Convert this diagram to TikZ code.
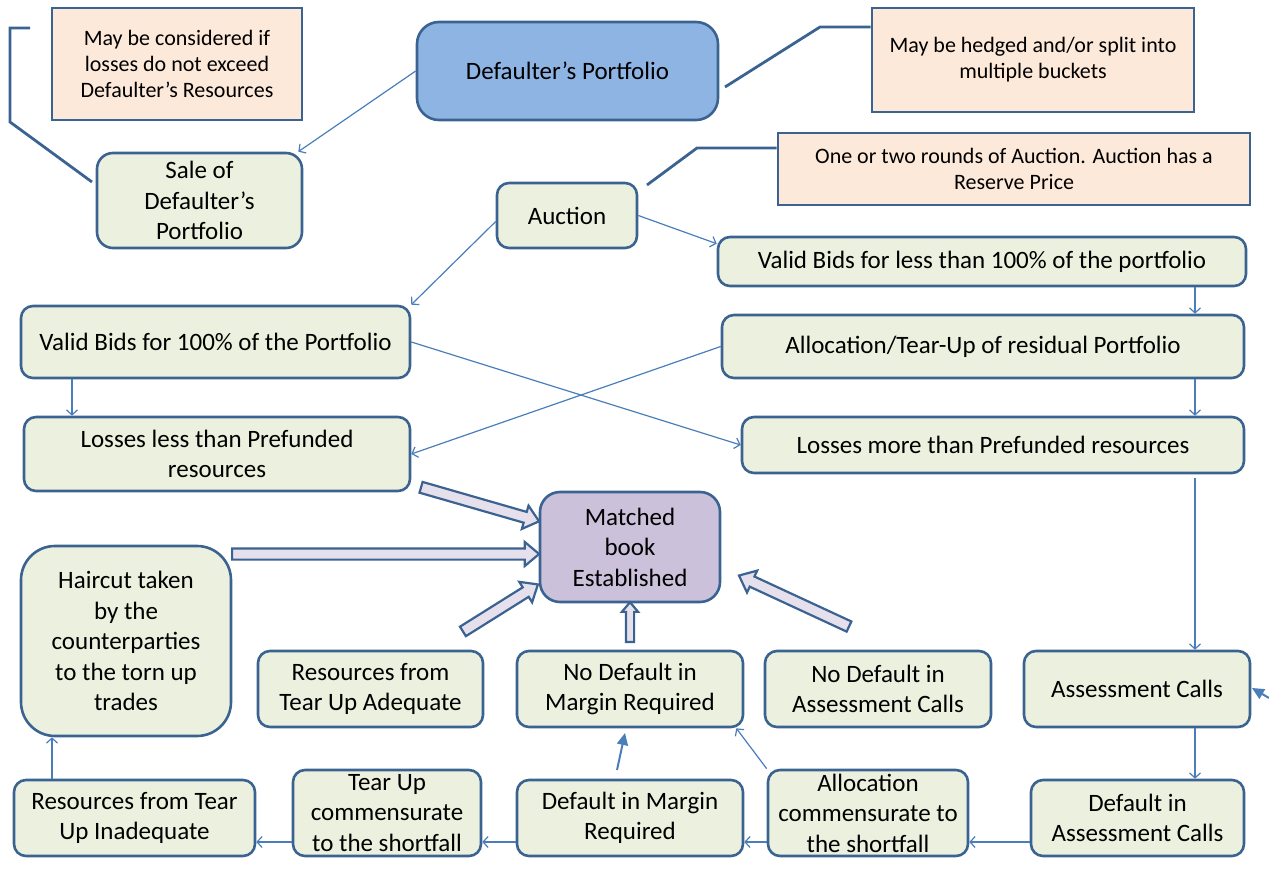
\documentclass[tikz,border=0pt]{standalone}
\usepackage{fontspec}
\setmainfont{Carlito}
\usetikzlibrary{arrows.meta,shapes.arrows,calc}
\definecolor{bord}{HTML}{3B6391}
\definecolor{gfill}{HTML}{EBF1DE}
\definecolor{pfill}{HTML}{FDE9D9}
\definecolor{bfill}{HTML}{8EB4E3}
\definecolor{mfill}{HTML}{CCC1DA}
\definecolor{afill}{HTML}{E6E0EC}
\definecolor{conn}{HTML}{4A7EBB}
\tikzset{
 base/.style={draw=bord, line width=2.6pt, align=center, inner sep=0pt, font=\fontsize{25}{30.5}\selectfont},
 gbox/.style={base, fill=gfill, rounded corners=12pt},
 note/.style={base, fill=pfill, font=\fontsize{22}{26}\selectfont},
 cn/.style={draw=conn, line width=1.2pt, -{Straight Barb[length=5pt,width=11pt]}},
 callout/.style={draw=bord, line width=2.8pt},
 barrow/.style={single arrow, draw=bord, fill=afill, line width=2.2pt, inner sep=0pt, inner ysep=4.5pt, minimum width=0pt, single arrow head extend=6.5pt, single arrow tip angle=80},
 farrow/.style={draw=conn, line width=2pt, -{Triangle[length=12pt,width=11pt]}}
}
\newcommand\barr[3]{\path let \p1=(#1), \p2=(#2), \n1={atan2(\y2-\y1,\x2-\x1)}, \n2={veclen(\x2-\x1,\y2-\y1)} in node[barrow, #3, minimum height=\n2, rotate=\n1, anchor=tail] at (\p1) {};}
\begin{document}
\begin{tikzpicture}[x=1pt,y=-1pt]
\useasboundingbox (0,0) rectangle (1269,874);
% notes
\node[note, minimum width=250, minimum height=112] (n1) at (177,64) {May be considered if\\losses do not exceed\\Defaulter’s Resources};
\node[note, minimum width=322, minimum height=104] (n2) at (1033,60) {May be hedged and/or split into\\multiple buckets};
\node[note, minimum width=472, minimum height=72] (n3) at (1014,169) {One or two rounds of Auction. Auction has a\\Reserve Price};
% main boxes
\node[base, fill=bfill, rounded corners=22pt, minimum width=301, minimum height=98] (port) at (567.5,71) {Defaulter’s Portfolio};
\node[gbox, rounded corners=16pt, minimum width=205, minimum height=95] (sale) at (199.5,200.5) {Sale of\\Defaulter’s\\Portfolio};
\node[gbox, minimum width=140, minimum height=65] (auc) at (567,215.5) {Auction};
\node[gbox, minimum width=528, minimum height=49] (vless) at (982,261.5) {Valid Bids for less than 100\% of the portfolio};
\node[gbox, minimum width=389, minimum height=72] (v100) at (215.5,342) {Valid Bids for 100\% of the Portfolio};
\node[gbox, minimum width=522, minimum height=63] (alloc) at (983,346.5) {Allocation/Tear-Up of residual Portfolio};
\node[gbox, minimum width=386, minimum height=74] (lless) at (217,454) {Losses less than Prefunded\\resources};
\node[gbox, minimum width=502, minimum height=56] (lmore) at (993,445) {Losses more than Prefunded resources};
\node[base, fill=mfill, rounded corners=20pt, minimum width=180, minimum height=110] (mb) at (630,547) {Matched\\book\\Established};
\node[gbox, rounded corners=34pt, minimum width=210, minimum height=190] (hair) at (126,641) {Haircut taken\\by the\\counterparties\\to the torn up\\trades};
\node[gbox, minimum width=225, minimum height=76] (radq) at (370.5,689) {Resources from\\Tear Up Adequate};
\node[gbox, minimum width=226, minimum height=76] (ndm) at (630,689) {No Default in\\Margin Required};
\node[gbox, minimum width=226, minimum height=76] (nda) at (878,689) {No Default in\\Assessment Calls};
\node[gbox, minimum width=226, minimum height=76] (ac) at (1137,689) {Assessment Calls};
\node[gbox, minimum width=241, minimum height=76] (rinq) at (134.5,818) {Resources from Tear\\Up Inadequate};
\node[gbox, minimum width=188, minimum height=86] (tuc) at (387,813) {Tear Up\\commensurate\\to the shortfall};
\node[gbox, minimum width=226, minimum height=76] (dm) at (630,818) {Default in Margin\\Required};
\node[gbox, minimum width=200, minimum height=86] (acs) at (868,813) {Allocation\\commensurate to\\the shortfall};
\node[gbox, minimum width=213, minimum height=76] (da) at (1137.5,818) {Default in\\Assessment Calls};
% helper coordinates
\coordinate (xr) at (1195,0);
\coordinate (xl) at (72,0);
\coordinate (xh) at (52,0);
\coordinate (yb) at (0,842);
% connectors
\draw[cn] (port.west) -- ([xshift=-5pt]sale.north east);
\draw[cn] ([yshift=-6pt]auc.west) -- (v100.north east);
\draw[cn] (auc.east) -- ([yshift=-8pt]vless.north west);
\draw[cn] (vless.south -| xr) -- (alloc.north -| xr);
\draw[cn] (alloc.south -| xr) -- (lmore.north -| xr);
\draw[cn] ([yshift=-4pt]lmore.south -| xr) -- (ac.north -| xr);
\draw[cn] (ac.south -| xr) -- (da.north -| xr);
\draw[cn] (v100.south -| xl) -- (lless.north -| xl);
\draw[cn] (v100.east) -- (lmore.west);
\draw[cn] (alloc.west) -- (lless.east);
\draw[cn] (da.west |- yb) -- (acs.east |- yb);
\draw[cn] (acs.west |- yb) -- (dm.east |- yb);
\draw[cn] (dm.west |- yb) -- (tuc.east |- yb);
\draw[cn] (tuc.west |- yb) -- (rinq.east |- yb);
\draw[cn] (rinq.north -| xh) -- (hair.south -| xh);
\draw[cn] (acs.north west) -- ([xshift=-8pt]ndm.south east);
% free arrows
\coordinate (f1s) at (617,770); \coordinate (f1e) at (625,733);
\draw[farrow] (f1s) -- (f1e);
\coordinate (f2s) at (1269,698); \coordinate (f2e) at (1252,688);
\draw[farrow] (f2s) -- (f2e);
% callouts
\coordinate (c1a) at (30,28); \coordinate (c1b) at (10,28); \coordinate (c1c) at (10,122); \coordinate (c1d) at (92,182);
\draw[callout] (c1a) -- (c1b) -- (c1c) -- (c1d);
\coordinate (c2a) at (725,87); \coordinate (c2b) at (820,27);
\draw[callout] (c2a) -- (c2b) -- (c2b -| n2.west);
\coordinate (c3a) at (647,185); \coordinate (c3b) at (697,148);
\draw[callout] (c3a) -- (c3b) -- (c3b -| n3.west);
% block arrows
\coordinate (b1s) at (420,487); \coordinate (b1e) at (538,521);
\coordinate (b2s) at (231,554); \coordinate (b2e) at (538,554);
\coordinate (b3s) at (462,632); \coordinate (b3e) at (537,585);
\coordinate (b4s) at (630,643);
\coordinate (b5s) at (850,627); \coordinate (b5e) at (740,576);
\barr{b1s}{b1e}{}
\barr{b2s}{b2e}{}
\barr{b3s}{b3e}{}
\barr{b4s}{mb.south}{inner ysep=3pt, single arrow head extend=4pt}
\barr{b5s}{b5e}{}
\end{tikzpicture}
\end{document}
